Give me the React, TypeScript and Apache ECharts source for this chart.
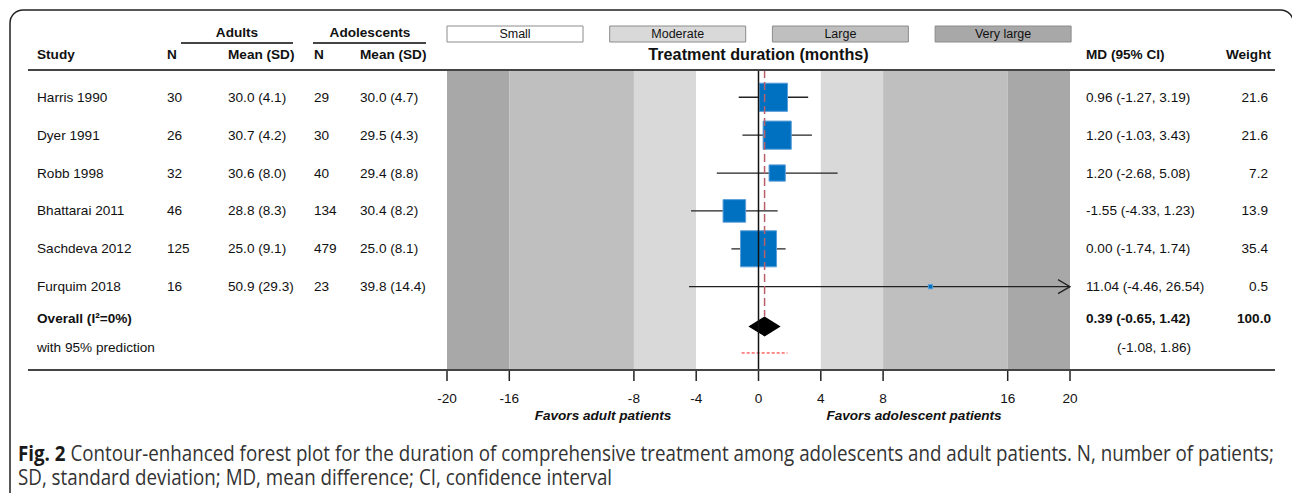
import React, { useEffect, useRef } from "react";
import * as echarts from "echarts";

// ---------------- data ----------------
const studies = ["Harris 1990", "Dyer 1991", "Robb 1998", "Bhattarai 2011", "Sachdeva 2012", "Furquim 2018"];
const adultN = [30, 26, 32, 46, 125, 16];
const adultMean = [30.0, 30.7, 30.6, 28.8, 25.0, 50.9];
const adultSD = [4.1, 4.2, 8.0, 8.3, 9.1, 29.3];
const adolN = [29, 30, 40, 134, 479, 23];
const adolMean = [30.0, 29.5, 29.4, 30.4, 25.0, 39.8];
const adolSD = [4.7, 4.3, 8.8, 8.2, 8.1, 14.4];
const md = [0.96, 1.2, 1.2, -1.55, 0.0, 11.04];
const ciLow = [-1.27, -1.03, -2.68, -4.33, -1.74, -4.46];
const ciHigh = [3.19, 3.43, 5.08, 1.23, 1.74, 26.54];
const weight = [21.6, 21.6, 7.2, 13.9, 35.4, 0.5];
const overallMD = 0.39;
const overallLow = -0.65;
const overallHigh = 1.42;
const overallWeight = 100.0;
const overallI2 = 0;
const predLow = -1.08;
const predHigh = 1.86;
const xTicks = [-20, -16, -8, -4, 0, 4, 8, 16, 20];
const bandEdges = [4, 8, 16, 20];
const bandLabels = ["Small", "Moderate", "Large", "Very large"];
const captionBold = "Fig. 2";
const captionLine1 =
  "Contour-enhanced forest plot for the duration of comprehensive treatment among adolescents and adult patients. N, number of patients;";
const captionLine2 = "SD, standard deviation; MD, mean difference; CI, confidence interval";

// ---------------- layout / style ----------------
const W = 1292;
const H = 493;
const gridLeft = 447;
const gridRight = 1070;
const gridTop = 70;
const gridBottom = 370;
const yMin = -0.72;
const yMax = 7.2;
const overallRow = 6.05;
const predRow = 6.75;
const overallTextRow = 5.83;
const predTextRow = 6.6;
const bandColors = ["#ffffff", "#d9d9d9", "#bfbfbf", "#a8a8a8"];
const boxScale = 6.06;
const diamondHalf = 10;
const FS = 13.6;
const FONT = "'Liberation Sans', Arial, sans-serif";
const CAPFONT = "'Open Sans', sans-serif";

const spacing = (gridBottom - gridTop) / (yMax - yMin);
const yPix = (r: number) => gridTop + (r - yMin) * spacing;

const f1 = (v: number) => v.toFixed(1);
const f2 = (v: number) => v.toFixed(2);

function measure(text: string, font: string): number {
  const c = document.createElement("canvas").getContext("2d");
  if (!c) return text.length * 8;
  c.font = font;
  return c.measureText(text).width;
}

function txt(text: string, x: number, y: number, o: any = {}) {
  const align = o.align || "left";
  return {
    type: "text",
    x,
    y,
    z: 100,
    silent: true,
    style: {
      text,
      fontSize: o.size || FS,
      fontFamily: o.family || FONT,
      fontWeight: o.weight || "normal",
      fontStyle: o.style || "normal",
      fill: o.fill || "#111",
      align,
      textAlign: align,
      verticalAlign: "middle",
      textVerticalAlign: "middle",
    },
  };
}

function hline(x1: number, x2: number, y: number, color = "#444", width = 2) {
  return {
    type: "line",
    z: 100,
    silent: true,
    shape: { x1, y1: y, x2, y2: y },
    style: { stroke: color, lineWidth: width },
  };
}

function buildBands() {
  const out: number[][] = [];
  const edges = [0, ...bandEdges];
  for (let i = edges.length - 1; i >= 2; i--) out.push([-edges[i], -edges[i - 1], i - 1]);
  out.push([-edges[1], edges[1], 0]);
  for (let i = 2; i < edges.length; i++) out.push([edges[i - 1], edges[i], i - 1]);
  return out;
}

export default function App() {
  const ref = useRef<HTMLDivElement>(null);

  useEffect(() => {
    if (!ref.current) return;
    const chart = echarts.init(ref.current, null, { renderer: "svg" });

    const studyData = studies.map((_, i) => [md[i], ciLow[i], ciHigh[i], weight[i], i]);

    const graphics: any[] = [];
    // figure frame
    graphics.push({
      type: "rect",
      z: 100,
      silent: true,
      shape: { x: 10, y: 10, width: 1283.5, height: 540, r: 13 },
      style: { fill: "none", stroke: "#222", lineWidth: 1.5 },
    });

    // group headers
    graphics.push(txt("Adults", 237, 32, { weight: "bold", align: "center" }));
    graphics.push(txt("Adolescents", 370, 32, { weight: "bold", align: "center" }));
    graphics.push(hline(181, 293, 43));
    graphics.push(hline(313, 426, 43));

    // column headers
    const hy = 54;
    graphics.push(txt("Study", 37, hy, { weight: "bold" }));
    graphics.push(txt("N", 167, hy, { weight: "bold" }));
    graphics.push(txt("Mean (SD)", 228, hy, { weight: "bold" }));
    graphics.push(txt("N", 314, hy, { weight: "bold" }));
    graphics.push(txt("Mean (SD)", 360, hy, { weight: "bold" }));
    graphics.push(txt("Treatment duration (months)", 758.5, hy, { weight: "bold", size: 16.2, align: "center" }));
    graphics.push(txt("MD (95% CI)", 1086, hy, { weight: "bold" }));
    graphics.push(txt("Weight", 1271, hy, { weight: "bold", align: "right" }));

    // legend boxes
    bandLabels.forEach((lab, i) => {
      const x = 447 + i * 162.7;
      graphics.push({
        type: "rect",
        z: 100,
        silent: true,
        shape: { x, y: 26, width: 136, height: 16 },
        style: { fill: bandColors[i], stroke: "#8c8c8c", lineWidth: 1 },
      });
      graphics.push(txt(lab, x + 68, 34, { size: 12.5, align: "center" }));
    });

    // rules
    graphics.push(hline(28, 1275, 70));
    graphics.push(hline(28, 1275, 370));

    // study rows
    studies.forEach((s, i) => {
      const y = yPix(i);
      graphics.push(txt(s, 37, y));
      graphics.push(txt(String(adultN[i]), 167, y));
      graphics.push(txt(`${f1(adultMean[i])} (${f1(adultSD[i])})`, 228, y));
      graphics.push(txt(String(adolN[i]), 314, y));
      graphics.push(txt(`${f1(adolMean[i])} (${f1(adolSD[i])})`, 360, y));
      graphics.push(txt(`${f2(md[i])} (${f2(ciLow[i])}, ${f2(ciHigh[i])})`, 1086, y));
      graphics.push(txt(f1(weight[i]), 1268, y, { align: "right" }));
    });
    const oy = yPix(overallTextRow);
    graphics.push(txt(`Overall (I\u00B2=${overallI2}%)`, 37, oy, { weight: "bold" }));
    graphics.push(txt(`${f2(overallMD)} (${f2(overallLow)}, ${f2(overallHigh)})`, 1086, oy, { weight: "bold" }));
    graphics.push(txt(f1(overallWeight), 1271, oy, { weight: "bold", align: "right" }));
    const py = yPix(predTextRow);
    graphics.push(txt("with 95% prediction", 37, py));
    graphics.push(txt(`(${f2(predLow)}, ${f2(predHigh)})`, 1117, py));

    // favors labels
    graphics.push(txt("Favors adult patients", 603, 415, { weight: "bold", style: "italic", align: "center" }));
    graphics.push(txt("Favors adolescent patients", 914, 415, { weight: "bold", style: "italic", align: "center" }));

    // caption
    const capSize = 22;
    const boldFont = `bold ${capSize}px ${CAPFONT}`;
    const regFont = `normal ${capSize}px ${CAPFONT}`;
    const wBold = measure(captionBold + " ", boldFont);
    const wRest = measure(captionLine1, regFont);
    const sx = (1275 - 18) / (wBold + wRest);
    graphics.push({
      type: "group",
      x: 18,
      y: 452,
      scaleX: sx,
      z: 100,
      children: [
        txt(captionBold, 0, 0, { family: CAPFONT, size: capSize, weight: "bold", fill: "#1a1a1a" }),
        txt(captionLine1, wBold, 0, { family: CAPFONT, size: capSize, fill: "#333" }),
      ],
    });
    graphics.push({
      type: "group",
      x: 18,
      y: 476,
      scaleX: sx,
      z: 100,
      children: [txt(captionLine2, 0, 0, { family: CAPFONT, size: capSize, fill: "#333" })],
    });

    const option: any = {
      animation: false,
      grid: { left: gridLeft, right: W - gridRight, top: gridTop, bottom: H - gridBottom, containLabel: false },
      xAxis: {
        type: "value",
        min: -20,
        max: 20,
        axisLine: { show: false },
        axisTick: { show: false },
        axisLabel: {
          customValues: xTicks,
          margin: 21,
          fontSize: FS,
          fontFamily: FONT,
          color: "#111",
        },
        splitLine: { show: false },
      },
      yAxis: { type: "value", min: yMin, max: yMax, inverse: true, show: false },
      graphic: graphics,
      series: [
        {
          type: "custom",
          name: "bands",
          z: 1,
          silent: true,
          data: buildBands(),
          renderItem: (params: any, api: any) => {
            const cs = params.coordSys;
            const p0 = api.coord([api.value(0), yMin]);
            const p1 = api.coord([api.value(1), yMin]);
            return {
              type: "rect",
              shape: { x: p0[0], y: cs.y, width: p1[0] - p0[0], height: cs.height },
              style: { fill: bandColors[api.value(2)] },
            };
          },
        },
        {
          type: "custom",
          name: "ticks",
          z: 5,
          clip: false,
          silent: true,
          data: xTicks.map((v) => [v]),
          renderItem: (params: any, api: any) => {
            const p = api.coord([api.value(0), yMax]);
            return {
              type: "line",
              shape: { x1: p[0], y1: p[1], x2: p[0], y2: p[1] + 11 },
              style: { stroke: "#222", lineWidth: 1.5 },
            };
          },
        },
        {
          type: "custom",
          name: "studies",
          z: 3,
          clip: false,
          data: studyData,
          renderItem: (params: any, api: any) => {
            const x = api.value(0);
            const lo = api.value(1);
            const hi = api.value(2);
            const w = api.value(3);
            const row = api.value(4);
            const pLo = api.coord([Math.max(lo, -20), row]);
            const pHi = api.coord([Math.min(hi, 20), row]);
            const pC = api.coord([x, row]);
            const size = boxScale * Math.sqrt(w);
            const children: any[] = [
              {
                type: "line",
                shape: { x1: pLo[0], y1: pLo[1], x2: pHi[0], y2: pHi[1] },
                style: { stroke: "#222", lineWidth: 1.3 },
              },
            ];
            if (hi > 20) {
              children.push({
                type: "polyline",
                shape: { points: [[pHi[0] - 12, pHi[1] - 7], [pHi[0], pHi[1]], [pHi[0] - 12, pHi[1] + 7]] },
                style: { stroke: "#222", lineWidth: 1.3, fill: "none" },
              });
            }
            children.push({
              type: "rect",
              shape: { x: pC[0] - size / 2, y: pC[1] - size / 2, width: size, height: size },
              style: { fill: "#0070c0", stroke: "#5b9fd9", lineWidth: 1 },
            });
            return { type: "group", children };
          },
        },
        {
          type: "custom",
          name: "overall",
          z: 3,
          data: [[overallMD, overallLow, overallHigh, overallRow]],
          renderItem: (params: any, api: any) => {
            const row = api.value(3);
            const l = api.coord([api.value(1), row]);
            const c = api.coord([api.value(0), row]);
            const r = api.coord([api.value(2), row]);
            return {
              type: "polygon",
              shape: {
                points: [
                  [l[0], l[1]],
                  [c[0], c[1] - diamondHalf],
                  [r[0], r[1]],
                  [c[0], c[1] + diamondHalf],
                ],
              },
              style: { fill: "#000" },
            };
          },
        },
        {
          type: "custom",
          name: "prediction",
          z: 3,
          data: [[predLow, predHigh, predRow]],
          renderItem: (params: any, api: any) => {
            const a = api.coord([api.value(0), api.value(2)]);
            const b = api.coord([api.value(1), api.value(2)]);
            return {
              type: "line",
              shape: { x1: a[0], y1: a[1], x2: b[0], y2: b[1] },
              style: { stroke: "#ff1a1a", lineWidth: 1, lineDash: [3, 2] },
            };
          },
        },
        {
          type: "custom",
          name: "nullLine",
          z: 5,
          data: [[0]],
          renderItem: (params: any, api: any) => {
            const a = api.coord([api.value(0), yMin]);
            const b = api.coord([api.value(0), yMax]);
            return {
              type: "line",
              shape: { x1: a[0], y1: a[1], x2: b[0], y2: b[1] },
              style: { stroke: "#111", lineWidth: 1.5 },
            };
          },
        },
        {
          type: "custom",
          name: "pooledLine",
          z: 4,
          data: [[overallMD, overallRow]],
          renderItem: (params: any, api: any) => {
            const a = api.coord([api.value(0), yMin]);
            const b = api.coord([api.value(0), api.value(1)]);
            return {
              type: "line",
              shape: { x1: a[0], y1: a[1], x2: b[0], y2: b[1] - diamondHalf },
              style: { stroke: "#b8606a", lineWidth: 1.5, lineDash: [8, 4] },
            };
          },
        },
      ],
    };

    chart.setOption(option);
    return () => chart.dispose();
  }, []);

  return (
    <div
      ref={ref}
      style={{ position: "absolute", left: 0, top: 0, width: W, height: H, background: "#fff" }}
    />
  );
}
